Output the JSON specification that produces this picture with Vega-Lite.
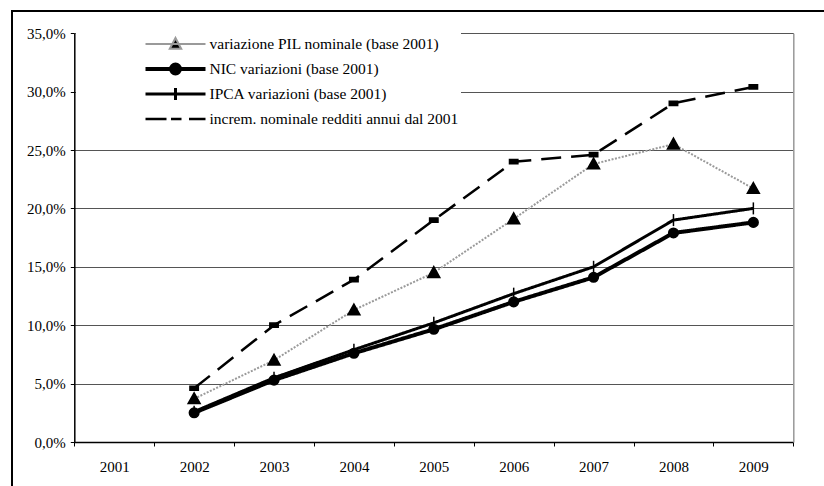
{
  "$schema": "https://vega.github.io/schema/vega-lite/v6.json",
  "autosize": {"type": "none"},
  "padding": {"left": 12, "top": 11, "right": -2, "bottom": -2},
  "width": 814,
  "height": 477,
  "background": "white",
  "config": {
    "locale": {"number": {"decimal": ",", "thousands": ".", "grouping": [3], "currency": ["€", ""]}},
    "view": {"stroke": "black", "strokeWidth": 2},
    "font": "Liberation Serif"
  },
  "data": {
    "values": [
      {"year": "2002", "series": "variazione PIL nominale (base 2001)", "value": 0.037},
      {"year": "2003", "series": "variazione PIL nominale (base 2001)", "value": 0.070},
      {"year": "2004", "series": "variazione PIL nominale (base 2001)", "value": 0.113},
      {"year": "2005", "series": "variazione PIL nominale (base 2001)", "value": 0.145},
      {"year": "2006", "series": "variazione PIL nominale (base 2001)", "value": 0.191},
      {"year": "2007", "series": "variazione PIL nominale (base 2001)", "value": 0.238},
      {"year": "2008", "series": "variazione PIL nominale (base 2001)", "value": 0.255},
      {"year": "2009", "series": "variazione PIL nominale (base 2001)", "value": 0.217},
      {"year": "2002", "series": "NIC variazioni (base 2001)", "value": 0.025},
      {"year": "2003", "series": "NIC variazioni (base 2001)", "value": 0.053},
      {"year": "2004", "series": "NIC variazioni (base 2001)", "value": 0.076},
      {"year": "2005", "series": "NIC variazioni (base 2001)", "value": 0.0965},
      {"year": "2006", "series": "NIC variazioni (base 2001)", "value": 0.120},
      {"year": "2007", "series": "NIC variazioni (base 2001)", "value": 0.141},
      {"year": "2008", "series": "NIC variazioni (base 2001)", "value": 0.179},
      {"year": "2009", "series": "NIC variazioni (base 2001)", "value": 0.188},
      {"year": "2002", "series": "IPCA variazioni (base 2001)", "value": 0.026},
      {"year": "2003", "series": "IPCA variazioni (base 2001)", "value": 0.055},
      {"year": "2004", "series": "IPCA variazioni (base 2001)", "value": 0.079},
      {"year": "2005", "series": "IPCA variazioni (base 2001)", "value": 0.102},
      {"year": "2006", "series": "IPCA variazioni (base 2001)", "value": 0.127},
      {"year": "2007", "series": "IPCA variazioni (base 2001)", "value": 0.150},
      {"year": "2008", "series": "IPCA variazioni (base 2001)", "value": 0.190},
      {"year": "2009", "series": "IPCA variazioni (base 2001)", "value": 0.200},
      {"year": "2002", "series": "increm. nominale redditi annui dal 2001", "value": 0.046},
      {"year": "2003", "series": "increm. nominale redditi annui dal 2001", "value": 0.100},
      {"year": "2004", "series": "increm. nominale redditi annui dal 2001", "value": 0.139},
      {"year": "2005", "series": "increm. nominale redditi annui dal 2001", "value": 0.190},
      {"year": "2006", "series": "increm. nominale redditi annui dal 2001", "value": 0.240},
      {"year": "2007", "series": "increm. nominale redditi annui dal 2001", "value": 0.246},
      {"year": "2008", "series": "increm. nominale redditi annui dal 2001", "value": 0.290},
      {"year": "2009", "series": "increm. nominale redditi annui dal 2001", "value": 0.304}
    ]
  },
  "resolve": {"scale": {"shape": "independent", "stroke": "independent", "strokeWidth": "independent"}, "axis": {"y": "independent"}},
  "layer": [
    {
      "mark": {"type": "line"},
      "encoding": {
        "x": {
          "field": "year", "type": "ordinal",
          "scale": {"type": "band", "domain": ["2001","2002","2003","2004","2005","2006","2007","2008","2009"], "range": [62.3, 781.3], "paddingInner": 0, "paddingOuter": 0},
          "axis": {"orient": "bottom", "offset": -46, "grid": false, "domainColor": "black", "domainWidth": 1.5, "tickColor": "black", "tickSize": 4, "tickBand": "extent", "labelFont": "Liberation Serif", "labelFontSize": 15, "labelColor": "black", "labelPadding": 13, "labelAngle": 0, "title": null}
        },
        "y": {
          "field": "value", "type": "quantitative",
          "scale": {"domain": [0, 0.35], "range": [431, 22.2], "nice": false, "zero": true},
          "axis": {"orient": "left", "offset": -62.3, "values": [0, 0.05, 0.1, 0.15, 0.2, 0.25, 0.3, 0.35], "format": ".1%", "grid": true, "gridColor": "#555555", "gridWidth": 1.2, "domainColor": "black", "domainWidth": 1.5, "tickColor": "black", "tickSize": 4, "labelFont": "Liberation Serif", "labelFontSize": 15, "labelColor": "black", "labelPadding": 5, "title": null}
        },
        "stroke": {"field": "series", "type": "nominal", "scale": {"domain": ["variazione PIL nominale (base 2001)", "NIC variazioni (base 2001)", "IPCA variazioni (base 2001)", "increm. nominale redditi annui dal 2001"], "range": ["#9a9a9a", "#000000", "#000000", "#000000"]}, "legend": null},
        "strokeWidth": {"field": "series", "type": "nominal", "scale": {"type": "ordinal", "domain": ["variazione PIL nominale (base 2001)", "NIC variazioni (base 2001)", "IPCA variazioni (base 2001)", "increm. nominale redditi annui dal 2001"], "range": [2, 4, 3, 2.5]}, "legend": null},
        "strokeDash": {"field": "series", "type": "nominal", "scale": {"domain": ["variazione PIL nominale (base 2001)", "NIC variazioni (base 2001)", "IPCA variazioni (base 2001)", "increm. nominale redditi annui dal 2001"], "range": [[2, 1.5], [1, 0], [1, 0], [20, 10]]}, "legend": null}
      }
    },
    {
      "mark": {"type": "point", "filled": true},
      "encoding": {
        "x": {"field": "year", "type": "ordinal"},
        "y": {"field": "value", "type": "quantitative", "axis": null},
        "shape": {"field": "series", "type": "nominal", "scale": {"domain": ["variazione PIL nominale (base 2001)", "NIC variazioni (base 2001)", "IPCA variazioni (base 2001)", "increm. nominale redditi annui dal 2001"], "range": ["M0,-1L1,0.8L-1,0.8Z", "M0.8,0A0.8,0.8,0,1,1,-0.8,0A0.8,0.8,0,1,1,0.8,0Z", "M0,-1V1", "M-0.7,-0.35H0.7V0.35H-0.7Z"]}, "legend": null},
        "size": {"value": 144},
        "fill": {"value": "black"},
        "stroke": {"value": "black"},
        "strokeWidth": {"value": 1.5},
        "opacity": {"value": 1}
      }
    },
    {
      "mark": {"type": "point", "filled": true, "opacity": 0, "color": "black"},
      "encoding": {
        "x": {"field": "year", "type": "ordinal"},
        "y": {"field": "value", "type": "quantitative", "axis": {"orient": "right", "offset": -32.7, "labels": false, "ticks": false, "grid": false, "domainColor": "#999999", "domainWidth": 1.5, "title": null}},
        "shape": {"field": "series", "type": "nominal", "scale": {"domain": ["variazione PIL nominale (base 2001)", "NIC variazioni (base 2001)", "IPCA variazioni (base 2001)", "increm. nominale redditi annui dal 2001"], "range": ["M-1,0H1M0,-0.2L0.19,0.16L-0.19,0.16Z", "M-1,0H1M0.15,0A0.15,0.15,0,1,1,-0.15,0A0.15,0.15,0,1,1,0.15,0Z", "M-1,0H1M0,-0.2V0.2", "M-1,0H-0.3M-0.15,0H0.2M0.45,0H1"]},
          "legend": {"orient": "none", "legendX": 64, "legendY": 18.5, "title": null, "fillColor": "white", "padding": 2, "symbolOffset": 65.5, "labelOffset": 2, "clipHeight": 25, "rowPadding": 0, "labelFont": "Liberation Serif", "labelFontSize": 15.5, "labelColor": "black", "symbolOpacity": 1, "symbolFillColor": "black", "symbolSize": 3600, "labelLimit": 400}},
        "stroke": {"field": "series", "type": "nominal", "scale": {"domain": ["variazione PIL nominale (base 2001)", "NIC variazioni (base 2001)", "IPCA variazioni (base 2001)", "increm. nominale redditi annui dal 2001"], "range": ["#9a9a9a", "#000000", "#000000", "#000000"]},
          "legend": {"orient": "none", "legendX": 64, "legendY": 18.5, "title": null, "fillColor": "white", "padding": 2, "symbolOffset": 65.5, "labelOffset": 2, "clipHeight": 25, "rowPadding": 0, "labelFont": "Liberation Serif", "labelFontSize": 15.5, "labelColor": "black", "symbolOpacity": 1, "symbolFillColor": "black", "symbolSize": 3600, "labelLimit": 400}},
        "strokeWidth": {"field": "series", "type": "nominal", "scale": {"type": "ordinal", "domain": ["variazione PIL nominale (base 2001)", "NIC variazioni (base 2001)", "IPCA variazioni (base 2001)", "increm. nominale redditi annui dal 2001"], "range": [2, 4, 3, 2.5]},
          "legend": {"orient": "none", "legendX": 64, "legendY": 18.5, "title": null, "fillColor": "white", "padding": 2, "symbolOffset": 65.5, "labelOffset": 2, "clipHeight": 25, "rowPadding": 0, "labelFont": "Liberation Serif", "labelFontSize": 15.5, "labelColor": "black", "symbolOpacity": 1, "symbolFillColor": "black", "symbolSize": 3600, "labelLimit": 400}},
        "size": {"value": 3600}
      }
    }
  ]
}
